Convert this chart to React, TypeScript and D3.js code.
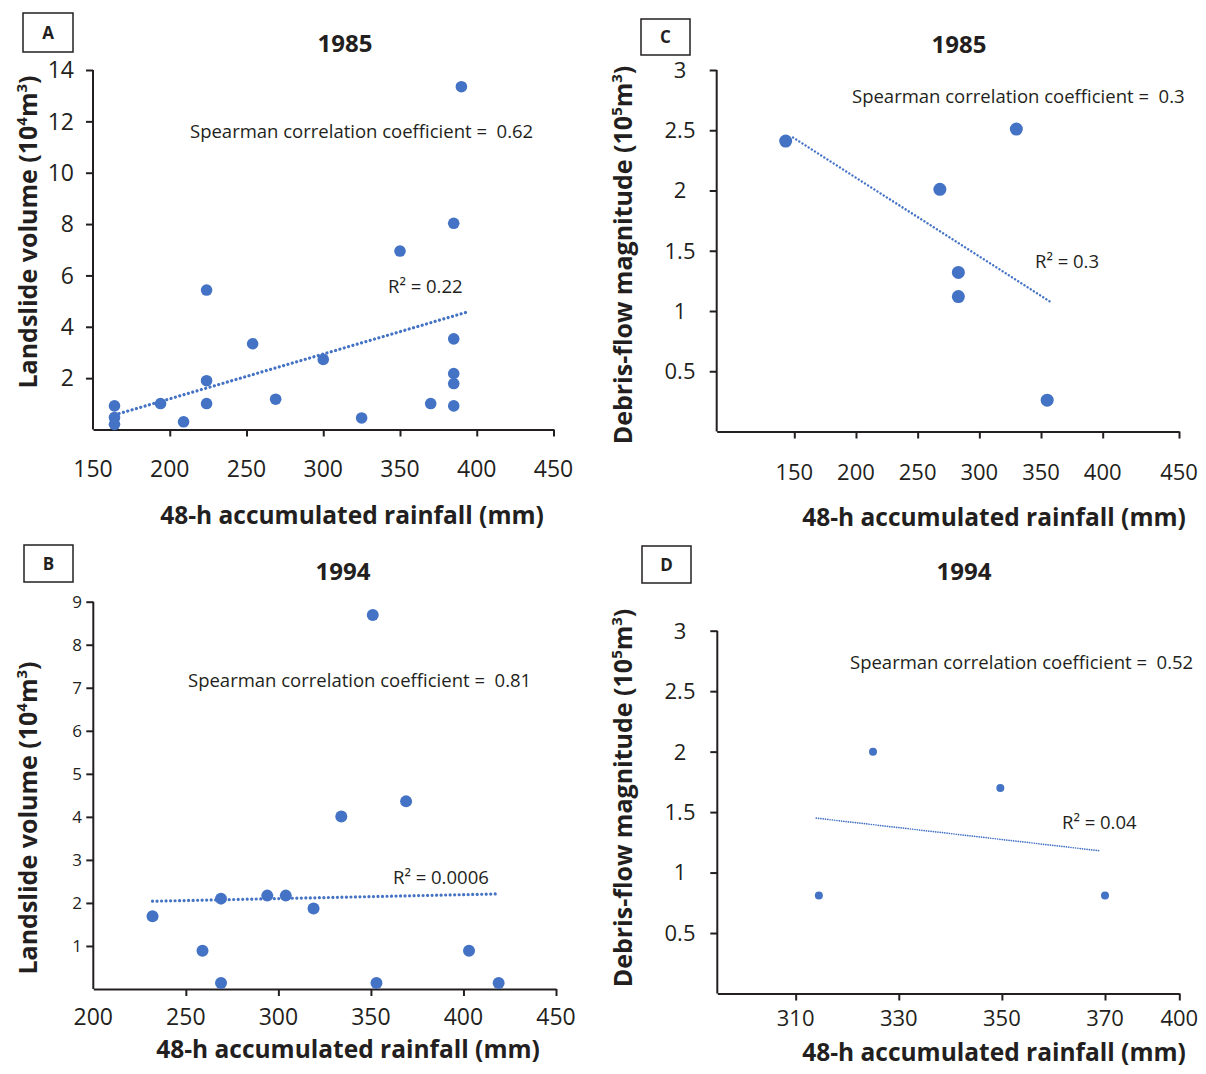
import React, { useRef, useEffect } from 'react';
import * as d3 from 'd3';

// ---- panel A: 1985, landslide volume vs 48-h rainfall
const rainA = [390, 385, 350, 224, 254, 300, 385, 385, 385, 385, 370, 325, 269, 224, 224, 209, 194, 164, 164, 164];
const volA = [13.35, 8.03, 6.95, 5.43, 3.34, 2.73, 3.53, 2.18, 1.79, 0.92, 1.01, 0.45, 1.18, 1.9, 1.01, 0.3, 1.01, 0.92, 0.47, 0.2];
const trendRainA = [167, 393];
const trendVolA = [0.62, 4.56];
const xTicksA = [150, 200, 250, 300, 350, 400, 450];
const yTicksA = [2, 4, 6, 8, 10, 12, 14];

// ---- panel B: 1994, landslide volume
const rainB = [351, 334, 369, 269, 294, 304, 319, 232, 259, 269, 353, 403, 419];
const volB = [8.69, 4.01, 4.36, 2.1, 2.17, 2.17, 1.87, 1.69, 0.89, 0.14, 0.14, 0.89, 0.14];
const trendRainB = [232, 419];
const trendVolB = [2.04, 2.21];
const xTicksB = [200, 250, 300, 350, 400, 450];
const yTicksB = [1, 2, 3, 4, 5, 6, 7, 8, 9];

// ---- panel C: 1985, debris-flow magnitude
const rainC = [143, 330, 268, 283, 283, 355];
const magC = [2.41, 2.51, 2.01, 1.32, 1.12, 0.26];
const trendRainC = [149, 357];
const trendMagC = [2.44, 1.08];
const xTicksC = [150, 200, 250, 300, 350, 400, 450];
const yTicksC = [0.5, 1, 1.5, 2, 2.5, 3];

// ---- panel D: 1994, debris-flow magnitude
const rainD = [314.5, 325, 349.7, 370];
const magD = [0.81, 2.0, 1.7, 0.81];
const trendRainD = [314, 369];
const trendMagD = [1.45, 1.18];
const xTicksD = [310, 330, 350, 370, 400];
const yTicksD = [0.5, 1, 1.5, 2, 2.5, 3];

const spearman = ['0.62', '0.81', '0.3', '0.52'];
const rSquared = ['0.22', '0.0006', '0.3', '0.04'];

const FONT = '"Open Sans", "Noto Sans", sans-serif';
const BLUE = '#4472c4';
const INK = '#231f20';

const volTitle: [string, boolean][] = [['Landslide volume (10', false], ['4', true], ['m', false], ['3', true], [')', false]];
const magTitle: [string, boolean][] = [['Debris-flow magnitude (10', false], ['5', true], ['m', false], ['3', true], [')', false]];

const panels = [
  {
    label: 'A', year: '1985', xs: rainA, ys: volA, tx: trendRainA, ty: trendVolA,
    xDomain: [150, 450], xRange: [93, 553.5], yDomain: [0, 14], yRange: [429.5, 70],
    xTicks: xTicksA, yTicks: yTicksA, yTitle: volTitle,
    box: [23, 13, 50, 39], yearPos: [345, 52],
    yLab: { x: 74, anchor: 'end', size: 23 }, xLabY: 477, xLabSize: 23,
    xTitle: [352, 524], yTitle_: [37, 232],
    spear: [190, 138, spearman[0]], r2: [388, 293, rSquared[0]],
    r: 5.8, trendW: 3.2, trendGap: 4.5,
  },
  {
    label: 'B', year: '1994', xs: rainB, ys: volB, tx: trendRainB, ty: trendVolB,
    xDomain: [200, 450], xRange: [93.3, 556], yDomain: [0, 9], yRange: [989, 601.7],
    xTicks: xTicksB, yTicks: yTicksB, yTitle: volTitle,
    box: [24, 545, 49, 37], yearPos: [343, 580],
    yLab: { x: 82, anchor: 'end', size: 17 }, xLabY: 1025, xLabSize: 23,
    xTitle: [348, 1058], yTitle_: [37, 818],
    spear: [188, 687, spearman[1]], r2: [393, 884, rSquared[1]],
    r: 6, trendW: 3.2, trendGap: 4.5,
  },
  {
    label: 'C', year: '1985', xs: rainC, ys: magC, tx: trendRainC, ty: trendMagC,
    xDomain: [87.1, 400, 450], xRange: [716.7, 1102.7, 1179], yDomain: [0, 3], yRange: [431.5, 70],
    xTicks: xTicksC, yTicks: yTicksC, yTitle: magTitle,
    box: [641, 19, 49, 36], yearPos: [959, 53],
    yLab: { x: 680, anchor: 'middle', size: 22 }, xLabY: 480, xLabSize: 22,
    xTitle: [994, 526], yTitle_: [632, 255],
    spear: [852, 103, spearman[2]], r2: [1035, 268, rSquared[2]],
    r: 6.5, trendW: 2.4, trendGap: 3.7,
  },
  {
    label: 'D', year: '1994', xs: rainD, ys: magD, tx: trendRainD, ty: trendMagD,
    xDomain: [294.8, 370, 400], xRange: [717.3, 1105, 1179.3], yDomain: [0, 3], yRange: [993.5, 630.7],
    xTicks: xTicksD, yTicks: yTicksD, yTitle: magTitle,
    box: [642, 546, 49, 37], yearPos: [964, 580],
    yLab: { x: 680, anchor: 'middle', size: 22 }, xLabY: 1026, xLabSize: 22,
    xTitle: [994, 1061], yTitle_: [632, 798],
    spear: [850, 669, spearman[3]], r2: [1062, 829, rSquared[3]],
    r: 4, trendW: 1.7, trendGap: 2.3,
  },
];

function drawPanel(svg: any, p: any) {
  const g = svg.append('g');
  const x = d3.scaleLinear().domain(p.xDomain).range(p.xRange);
  const y = d3.scaleLinear().domain(p.yDomain).range(p.yRange);
  const x0 = p.xRange[0];
  const yBase = p.yRange[0];

  // x axis
  g.append('g')
    .attr('transform', `translate(0,${yBase})`)
    .call(d3.axisBottom(x).tickValues(p.xTicks).tickSize(7).tickSizeOuter(0))
    .call((a: any) => a.select('.domain').attr('stroke', INK).attr('stroke-width', 2))
    .call((a: any) => a.selectAll('.tick line').attr('stroke', INK).attr('stroke-width', 2)
      .filter((d: number) => d === p.xDomain[0]).remove())
    .call((a: any) => a.selectAll('.tick text').remove());

  // y axis
  g.append('g')
    .attr('transform', `translate(${x0},0)`)
    .call(d3.axisLeft(y).tickValues(p.yTicks).tickSize(7).tickSizeOuter(0))
    .call((a: any) => a.select('.domain').attr('d', `M0,${yBase}V${y(p.yTicks[p.yTicks.length - 1])}`)
      .attr('stroke', INK).attr('stroke-width', 2))
    .call((a: any) => a.selectAll('.tick line').attr('stroke', INK).attr('stroke-width', 2))
    .call((a: any) => a.selectAll('.tick text').remove());

  // tick labels
  g.append('g')
    .selectAll('text')
    .data(p.xTicks)
    .enter().append('text')
    .attr('x', (d: number) => x(d))
    .attr('y', p.xLabY)
    .attr('text-anchor', 'middle')
    .style('font', `${p.xLabSize}px ${FONT}`)
    .attr('fill', INK)
    .text((d: number) => d);

  g.append('g')
    .selectAll('text')
    .data(p.yTicks)
    .enter().append('text')
    .attr('x', p.yLab.x)
    .attr('y', (d: number) => y(d))
    .attr('dy', '0.36em')
    .attr('text-anchor', p.yLab.anchor)
    .style('font', `${p.yLab.size}px ${FONT}`)
    .attr('fill', INK)
    .text((d: number) => d3.format('~g')(d));

  // dotted trend line
  const trend = p.tx.map((v: number, i: number) => [v, p.ty[i]]);
  g.append('path')
    .datum(trend)
    .attr('d', d3.line().x((d: any) => x(d[0])).y((d: any) => y(d[1])))
    .attr('fill', 'none')
    .attr('stroke', BLUE)
    .attr('stroke-width', p.trendW)
    .attr('stroke-linecap', 'round')
    .attr('stroke-dasharray', `0.01 ${p.trendGap}`);

  // points
  g.append('g')
    .attr('fill', BLUE)
    .selectAll('circle')
    .data(p.xs.map((v: number, i: number) => [v, p.ys[i]]))
    .enter().append('circle')
    .attr('cx', (d: number[]) => x(d[0]))
    .attr('cy', (d: number[]) => y(d[1]))
    .attr('r', p.r);

  // panel letter box
  g.append('rect')
    .attr('x', p.box[0]).attr('y', p.box[1]).attr('width', p.box[2]).attr('height', p.box[3])
    .attr('fill', 'none').attr('stroke', INK).attr('stroke-width', 1.5);
  g.append('text')
    .attr('x', p.box[0] + p.box[2] / 2).attr('y', p.box[1] + p.box[3] / 2)
    .attr('dy', '0.36em').attr('text-anchor', 'middle')
    .style('font', `bold 17px ${FONT}`).attr('fill', INK)
    .text(p.label);

  // year
  g.append('text')
    .attr('x', p.yearPos[0]).attr('y', p.yearPos[1])
    .attr('text-anchor', 'middle')
    .style('font', `bold 24px ${FONT}`).attr('fill', INK)
    .text(p.year);

  // axis titles
  g.append('text')
    .attr('x', p.xTitle[0]).attr('y', p.xTitle[1])
    .attr('text-anchor', 'middle')
    .style('font', `bold 24.5px ${FONT}`).attr('fill', INK)
    .text('48-h accumulated rainfall (mm)');

  const yt = g.append('text')
    .attr('transform', `translate(${p.yTitle_[0]},${p.yTitle_[1]}) rotate(-90)`)
    .attr('text-anchor', 'middle')
    .style('font', `bold 25px ${FONT}`).attr('fill', INK);
  p.yTitle.forEach(([s, sup]: [string, boolean]) => {
    const ts = yt.append('tspan').text(s);
    if (sup) ts.attr('baseline-shift', 'super').attr('font-size', '15px');
  });

  // annotations
  g.append('text')
    .attr('x', p.spear[0]).attr('y', p.spear[1])
    .style('font', `18.5px ${FONT}`).style('white-space', 'pre').attr('fill', INK)
    .text(`Spearman correlation coefficient =  ${p.spear[2]}`);
  g.append('text')
    .attr('x', p.r2[0]).attr('y', p.r2[1])
    .style('font', `18.5px ${FONT}`).style('white-space', 'pre').attr('fill', INK)
    .text(`R² = ${p.r2[2]}`);
}

function App() {
  const svgRef = useRef<SVGSVGElement>(null);

  useEffect(() => {
    const svg = d3.select(svgRef.current);
    svg.selectAll('*').remove();
    panels.forEach(p => drawPanel(svg, p));
  }, []);

  return (
    <svg
      ref={svgRef}
      width={1206}
      height={1074}
      style={{ position: 'absolute', left: 0, top: 0, background: '#fff' }}
    ></svg>
  );
}

export default App;
